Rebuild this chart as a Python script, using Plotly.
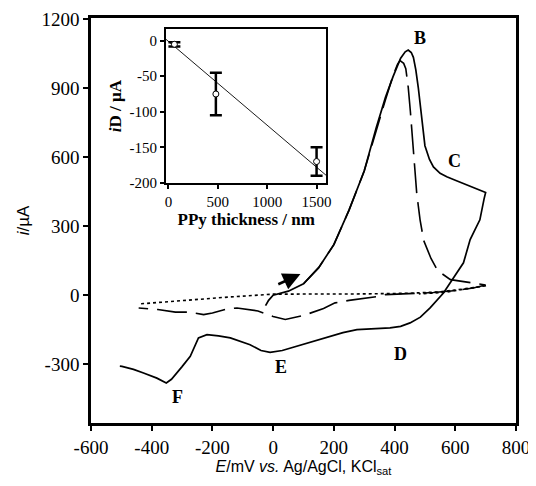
import plotly.graph_objects as go

# ---------------- main voltammograms ----------------
solid_E = [-25, -15, 0, 50, 100, 150, 200, 250, 300, 340, 370, 395, 420, 435, 445, 455, 462, 470, 478,
           490, 500, 515, 528, 550, 572, 600, 626, 660, 692, 700,
           695, 681, 665, 649, 627, 590, 561, 517, 485, 451, 420, 385, 330, 276, 230, 188, 130, 78, 30,
           -10, -40, -76, -110, -141, -180, -218, -246, -273, -300, -317, -335, -352, -383, -427, -460, -498, -505]
solid_i = [-45, -22, 0, 18, 50, 120, 220, 370, 540, 730, 860, 950, 1030, 1058, 1066, 1055, 1034, 980, 904,
           760, 650, 590, 558, 530, 515, 500, 486, 470, 450, 447,
           420, 328, 285, 242, 141, 70, 10, -55, -95, -120, -135, -142, -146, -149, -162, -178, -200, -222, -240,
           -248, -240, -215, -198, -185, -176, -171, -185, -265, -310, -338, -365, -381, -360, -338, -322, -309, -308]

dashed_E = [100, 150, 200, 250, 300, 340, 370, 395, 410, 418, 430, 437, 445, 452, 457, 462, 468, 473, 484, 496, 520, 542,
            584, 640, 692, 700,
            659, 600, 528, 495, 430, 370, 352, 300, 250, 204, 166, 100, 40, 0, -50, -119, -152, -200, -229,
            -279, -322, -380, -443]
dashed_i = [50, 120, 220, 370, 540, 720, 850, 955, 1005, 1020, 1008, 985, 904, 800, 717, 600, 500, 443, 328, 238, 160, 107,
            68, 56, 46, 45,
            32, 20, 12, 10, 6, 3, -4, -12, -22, -33, -57, -88, -105, -92, -68, -55, -59, -77, -84,
            -73, -73, -62, -55]

dotted_E = [-435, -300, -150, 0, 150, 300, 450, 550, 630, 705,
            650, 560, 480]
dotted_i = [-37, -22, -8, 5, 5, 6, 9, 15, 28, 42,
            30, 12, 6]

x_tickvals = [-600, -400, -200, 0, 200, 400, 600, 800]
x_ticktext = ["-600", "-400", "-200", "0", "200", "400", "600", "800"]
y_tickvals = [-300, 0, 300, 600, 900, 1200]
y_ticktext = ["-300", "0", "300", "600", "900", "1200"]

peak_labels = ["B", "C", "D", "E", "F"]
peak_label_E = [485, 598, 418, 26, -316]
peak_label_i = [1117, 585, -257, -312, -440]

arrow_tail = (12, 45)
arrow_head = (90, 92)

# ---------------- inset ----------------
thickness_nm = [60, 480, 1500]
iD_uA = [-5, -75, -170]
iD_err = [3, 30, 20]
fit_slope = -0.118
fit_intercept = -1.0
fit_x = [-25, 1600]
inset_x_tickvals = [0, 500, 1000, 1500]
inset_x_ticktext = ["0", "500", "1000", "1500"]
inset_y_tickvals = [0, -50, -100, -150, -200]
inset_y_ticktext = ["0", "-50", "-100", "-150", "-200"]

SERIF = "Times New Roman, Liberation Serif, serif"
SANS = "Arial, Liberation Sans, sans-serif"

fig = go.Figure()

fig.add_trace(go.Scatter(x=dotted_E, y=dotted_i, mode="lines",
                         line=dict(color="black", width=1.6, dash="3px,3px"), showlegend=False))
fig.add_trace(go.Scatter(x=dashed_E, y=dashed_i, mode="lines",
                         line=dict(color="black", width=1.6, dash="30px,9px"), showlegend=False))
fig.add_trace(go.Scatter(x=solid_E, y=solid_i, mode="lines",
                         line=dict(color="black", width=1.7), showlegend=False))

fig.add_trace(go.Scatter(x=fit_x, y=[fit_intercept + fit_slope * v for v in fit_x], mode="lines",
                         line=dict(color="black", width=0.9), xaxis="x2", yaxis="y2", showlegend=False))
fig.add_trace(go.Scatter(x=thickness_nm, y=iD_uA, mode="markers", xaxis="x2", yaxis="y2",
                         marker=dict(symbol="circle", size=6, color="white", line=dict(color="black", width=1)),
                         error_y=dict(type="data", array=iD_err, color="black", thickness=2.5, width=6),
                         showlegend=False))

for txt, ex, iy in zip(peak_labels, peak_label_E, peak_label_i):
    fig.add_annotation(x=ex, y=iy, text="<b>%s</b>" % txt, showarrow=False,
                       font=dict(family=SERIF, size=18, color="black"))

fig.add_annotation(x=arrow_head[0], y=arrow_head[1], ax=arrow_tail[0], ay=arrow_tail[1],
                   xref="x", yref="y", axref="x", ayref="y", text="", showarrow=True,
                   arrowhead=2, arrowsize=1.4, arrowwidth=2.5, arrowcolor="black")

# the page body has an 8 px margin, so the figure is sized and offset to place the
# plot frame where the reference has it
fig.update_layout(
    width=528, height=478,
    margin=dict(l=83, r=20, t=10, b=63),
    paper_bgcolor="white", plot_bgcolor="white",
    xaxis=dict(range=[-600, 800], tickvals=x_tickvals, ticktext=x_ticktext, automargin=False,
               showgrid=False, zeroline=False, showline=True, mirror=True, linewidth=2.5, linecolor="black",
               ticks="outside", ticklen=5, tickwidth=2, tickcolor="black",
               tickfont=dict(family=SERIF, size=19, color="black"),
               title=dict(text="<i>E</i>/mV <i>vs.</i> Ag/AgCl, KCl<sub>sat</sub>",
                          font=dict(family=SANS, size=16, color="black"), standoff=4)),
    yaxis=dict(range=[-555, 1205], tickvals=y_tickvals, ticktext=y_ticktext, automargin=False,
               showgrid=False, zeroline=False, showline=True, mirror=True, linewidth=2.5, linecolor="black",
               ticks="outside", ticklen=5, tickwidth=2, tickcolor="black",
               tickfont=dict(family=SERIF, size=19, color="black"),
               title=dict(text="<i>i</i>/µA", font=dict(family=SANS, size=17, color="black"), standoff=8)),
    xaxis2=dict(domain=[0.1765, 0.554], anchor="y2", range=[-25, 1600], automargin=False,
                tickvals=inset_x_tickvals, ticktext=inset_x_ticktext,
                showgrid=False, zeroline=False, showline=True, mirror=True, linewidth=2, linecolor="black",
                ticks="outside", ticklen=4, tickwidth=1.5, tickcolor="black",
                tickfont=dict(family=SERIF, size=15, color="black"),
                title=dict(text="<b>PPy thickness / nm</b>", font=dict(family=SERIF, size=17, color="black"),
                           standoff=2)),
    yaxis2=dict(domain=[0.593, 0.972], anchor="x2", range=[-200, 16], automargin=False,
                tickvals=inset_y_tickvals, ticktext=inset_y_ticktext,
                showgrid=False, zeroline=False, showline=True, mirror=True, linewidth=2, linecolor="black",
                ticks="outside", ticklen=4, tickwidth=1.5, tickcolor="black",
                tickfont=dict(family=SERIF, size=15, color="black"),
                title=dict(text="<b><i>i</i>D / µA</b>", font=dict(family=SERIF, size=17, color="black"),
                           standoff=4)),
)

fig.write_html("out.html")
